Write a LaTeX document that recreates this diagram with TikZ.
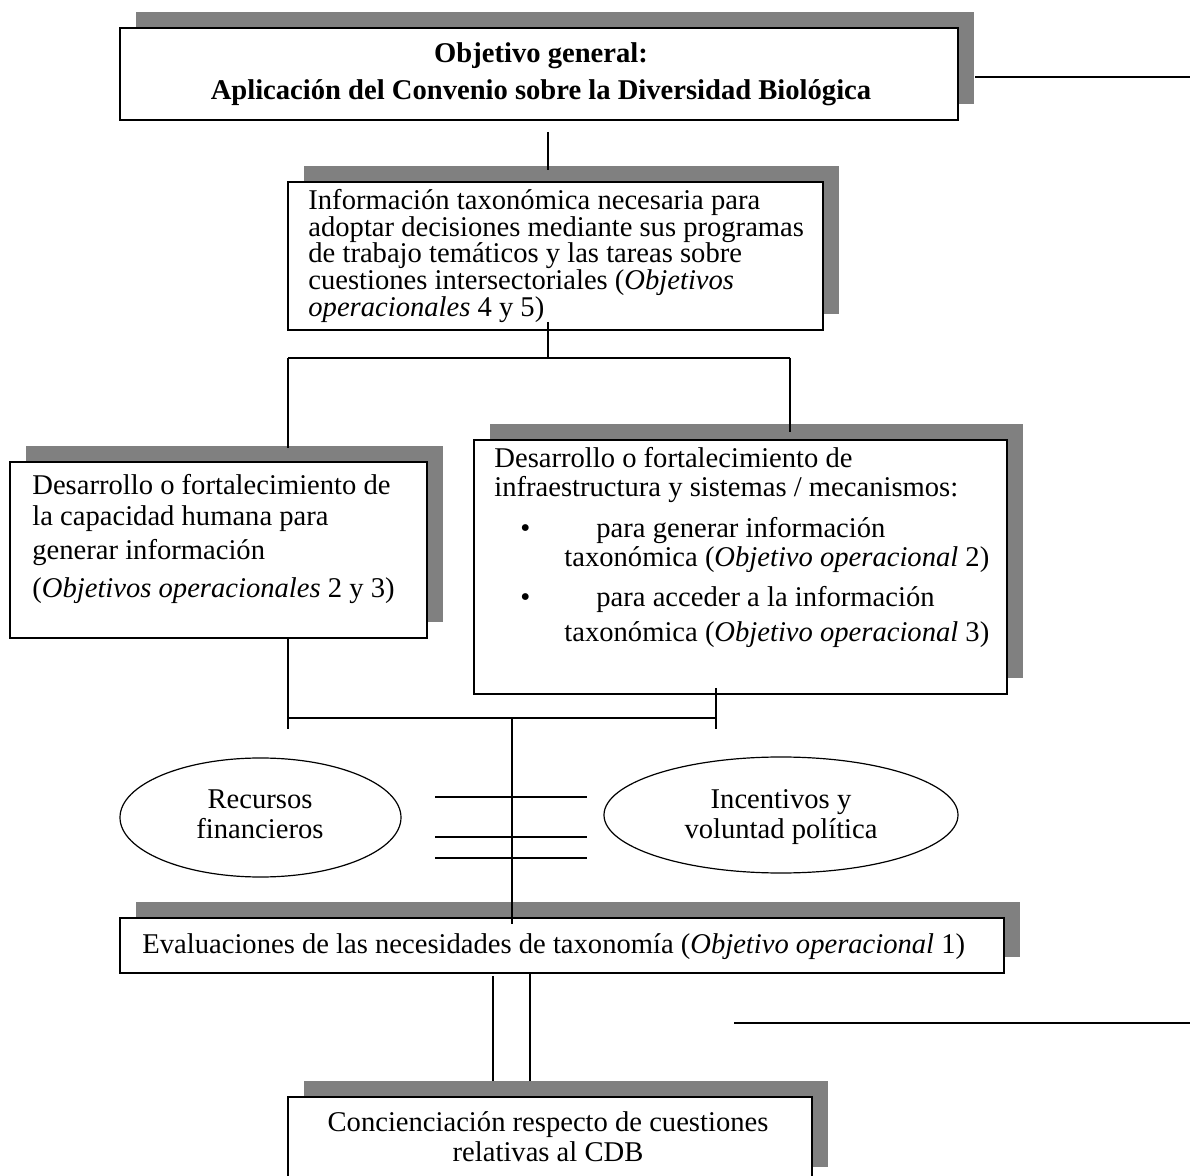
\documentclass[tikz,border=0pt]{standalone}
\usepackage{fontspec}
\setmainfont{Liberation Serif}
\usetikzlibrary{fit,shapes.geometric,shadows}
\definecolor{shadowgray}{RGB}{128,128,128}
\tikzset{
  boxnode/.style={inner sep=0pt, draw=black, line width=1pt, fill=white,
    drop shadow={shadow xshift=8pt, shadow yshift=8pt, opacity=1, fill=shadowgray}},
  oval/.style={ellipse, draw=black, line width=0.6pt, inner sep=0pt},
  conn/.style={draw=black, line width=0.75pt},
  thinconn/.style={draw=black, line width=0.55pt},
  thickconn/.style={draw=black, line width=1pt},
  txt/.style={inner sep=0pt, font=\fontsize{14.3}{16}\selectfont},
  lt/.style={txt, anchor=base west},
  ct/.style={txt, anchor=base},
}
\begin{document}
\begin{tikzpicture}[x=0.5pt,y=-0.5pt]
\useasboundingbox (0,0) rectangle (1190,1176);
\clip (0,0) rectangle (1190,1176);
% boxes
\node[boxnode, fit={(120,28) (958,120)}] (b1) {};
\node[boxnode, fit={(288,182) (823,330)}] (b2) {};
\node[boxnode, fit={(10,462) (427,638)}] (b3) {};
\node[boxnode, fit={(474,440) (1007,694)}] (b4) {};
\node[boxnode, fit={(120,918) (1004,973)}] (b5) {};
\node[boxnode, fit={(288,1097) (812,1183)}] (b6) {};
\node[oval, minimum width=140.5pt, minimum height=59.5pt] (e1) at (260.5,817.5) {};
\node[oval, minimum width=177pt, minimum height=58pt] (e2) at (781,815) {};
% texts
\node[ct, font=\fontsize{14.3}{16}\selectfont\bfseries] (t1a) at (541,63) {Objetivo general:};
\node[ct, font=\fontsize{14.3}{16}\selectfont\bfseries] (t1b) at (541,99.5) {Aplicación del Convenio sobre la Diversidad Biológica};
\node[lt] (t2a) at (308,210) {Información taxonómica necesaria para};
\node[lt] (t2b) at (308,237) {adoptar decisiones mediante sus programas};
\node[lt] (t2c) at (308,263) {de trabajo temáticos y las tareas sobre};
\node[lt] (t2d) at (308,290) {cuestiones intersectoriales (\textit{Objetivos}};
\node[lt] (t2e) at (308,316.5) {\textit{operacionales} 4 y 5)};
\node[lt] (t3a) at (32,495) {Desarrollo o fortalecimiento de};
\node[lt] (t3b) at (32,526) {la capacidad humana para};
\node[lt] (t3c) at (32,560) {generar información};
\node[lt] (t3d) at (32,598) {(\textit{Objetivos operacionales} 2 y 3)};
\node[lt] (t4a) at (494,468) {Desarrollo o fortalecimiento de};
\node[lt] (t4b) at (494,497) {infraestructura y sistemas / mecanismos:};
\node[lt] (t4c) at (520,538) {•};
\node[lt] (t4d) at (596,538) {para generar información};
\node[lt] (t4e) at (564,567) {taxonómica (\textit{Objetivo operacional} 2)};
\node[lt] (t4f) at (520,607) {•};
\node[lt] (t4g) at (596,607) {para acceder a la información};
\node[lt] (t4h) at (564,642) {taxonómica (\textit{Objetivo operacional} 3)};
\node[ct] (te1a) at (260,808) {Recursos};
\node[ct] (te1b) at (260,838) {financieros};
\node[ct] (te2a) at (781,808) {Incentivos y};
\node[ct] (te2b) at (781,838) {voluntad política};
\node[lt] (t5) at (142,953) {Evaluaciones de las necesidades de taxonomía (\textit{Objetivo operacional} 1)};
\node[ct] (t6a) at (548,1131) {Concienciación respecto de cuestiones};
\node[ct] (t6b) at (548,1161) {relativas al CDB};
% connector coordinates
\coordinate (r1a) at (975,77);
\coordinate (r1b) at (1190,77);
\coordinate (v1a) at (548,132);
\coordinate (v1b) at (548,170);
\coordinate (v2a) at (548,322);
\coordinate (h1c) at (548,358);
\coordinate (h1l) at (288,358);
\coordinate (h1r) at (790,358);
\coordinate (l3) at (288,448);
\coordinate (l4) at (790,432);
\coordinate (d3a) at (288,638);
\coordinate (d3b) at (288,729);
\coordinate (d4a) at (716,688);
\coordinate (d4b) at (716,729);
\coordinate (h2l) at (288,718);
\coordinate (h2r) at (716,718);
\coordinate (h2c) at (512,718);
\coordinate (v5) at (512,924);
\coordinate (s1a) at (435,797); \coordinate (s1b) at (587,797);
\coordinate (s2a) at (435,837); \coordinate (s2b) at (587,837);
\coordinate (s3a) at (435,858); \coordinate (s3b) at (587,858);
\coordinate (p1a) at (493,976); \coordinate (p1b) at (493,1081);
\coordinate (p2a) at (530,973); \coordinate (p2b) at (530,1081);
\coordinate (r2a) at (734,1023); \coordinate (r2b) at (1190,1023);
% connectors
\draw[conn] (r1a) -- (r1b);
\draw[conn] (v1a) -- (v1b);
\draw[conn] (v2a) -- (h1c);
\draw[thinconn] (h1l) -- (h1c);
\draw[thickconn] (h1c) -- (h1r);
\draw[conn] (h1l) -- (l3);
\draw[conn] (h1r) -- (l4);
\draw[conn] (d3a) -- (d3b);
\draw[conn] (d4a) -- (d4b);
\draw[conn] (h2l) -- (h2r);
\draw[conn] (h2c) -- (v5);
\draw[conn] (s1a) -- (s1b);
\draw[conn] (s2a) -- (s2b);
\draw[conn] (s3a) -- (s3b);
\draw[conn] (p1a) -- (p1b);
\draw[conn] (p2a) -- (p2b);
\draw[conn] (r2a) -- (r2b);
\end{tikzpicture}
\end{document}
